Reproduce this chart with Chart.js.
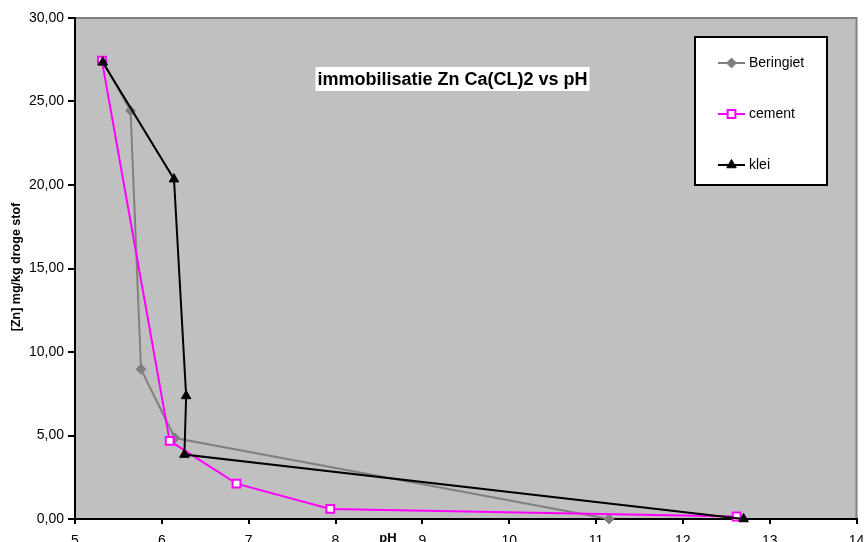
<!DOCTYPE html>
<html>
<head>
<meta charset="utf-8">
<script src="https://cdn.jsdelivr.net/npm/chart.js@4/dist/chart.umd.min.js"></script>
<style>
  html, body { margin: 0; padding: 0; background: #fff; }
  #wrap { width: 864px; height: 542px; position: relative; }
</style>
</head>
<body>
<div id="wrap"><canvas id="znChart"></canvas></div>
<script>
// ── Data ──────────────────────────────────────────────────────────────────
var berPH    = [5.32, 5.64, 5.76, 6.15, 11.15];
var berZn    = [27.40, 24.45, 8.97, 4.85, 0.00];
var cementPH = [5.31, 6.09, 6.86, 7.94, 12.62];
var cementZn = [27.45, 4.68, 2.12, 0.60, 0.15];
var kleiPH   = [5.32, 6.14, 6.28, 6.26, 12.70];
var kleiZn   = [27.35, 20.35, 7.37, 3.86, 0.00];

var seriesNames = ['Beringiet', 'cement', 'klei'];
var chartTitle  = 'immobilisatie Zn Ca(CL)2 vs pH';
var xTitle      = 'pH';
var yTitle      = '[Zn] mg/kg droge stof';

var FONT = '"Liberation Sans", Arial, sans-serif';

function pts(xs, ys) {
  return xs.map(function(x, i) { return { x: x, y: ys[i] }; });
}

// ── Decorations: grey plot area, inner title, boxed legend, axis titles ──
var decor = {
  id: 'decor',
  beforeDraw: function(chart) {
    var a = chart.chartArea, ctx = chart.ctx;
    ctx.save();
    ctx.fillStyle = '#c0c0c0';
    ctx.fillRect(a.left, a.top, a.right - a.left, a.bottom - a.top);
    ctx.strokeStyle = '#808080';
    ctx.lineWidth = 2;
    ctx.beginPath();
    ctx.moveTo(a.left, a.top);
    ctx.lineTo(a.right, a.top);
    ctx.lineTo(a.right, a.bottom);
    ctx.stroke();

    // title box inside the plot
    ctx.font = 'bold 18px ' + FONT;
    var tw = ctx.measureText(chartTitle).width;
    var cx = 452.5;
    ctx.fillStyle = '#fff';
    ctx.fillRect(cx - tw / 2 - 2, 67, tw + 4, 24);
    ctx.fillStyle = '#000';
    ctx.textAlign = 'center';
    ctx.textBaseline = 'middle';
    ctx.fillText(chartTitle, cx, 80);

    // axis titles
    ctx.font = 'bold 13px ' + FONT;
    ctx.textBaseline = 'top';
    ctx.fillText(xTitle, 388, 532);
    ctx.save();
    ctx.translate(16.5, 267);
    ctx.rotate(-Math.PI / 2);
    ctx.font = 'bold 12.5px ' + FONT;
    ctx.textBaseline = 'middle';
    ctx.fillText(yTitle, 0, 0);
    ctx.restore();
    ctx.restore();
  },
  afterDraw: function(chart) {
    var ctx = chart.ctx;
    ctx.save();
    ctx.fillStyle = '#fff';
    ctx.fillRect(695, 37, 132, 148);
    ctx.strokeStyle = '#000';
    ctx.lineWidth = 2;
    ctx.strokeRect(695, 37, 132, 148);

    var rows = [63, 114, 165];
    chart.data.datasets.forEach(function(ds, i) {
      var y = rows[i];
      ctx.strokeStyle = ds.borderColor;
      ctx.lineWidth = 2;
      ctx.beginPath();
      ctx.moveTo(718, y);
      ctx.lineTo(745, y);
      ctx.stroke();
      ctx.fillStyle = ds.pointBackgroundColor;
      ctx.strokeStyle = ds.borderColor;
      ctx.lineWidth = ds.pointBorderWidth;
      Chart.helpers.drawPoint(ctx, {
        pointStyle: ds.pointStyle,
        radius: ds.pointRadius,
        borderWidth: ds.pointBorderWidth
      }, 731.5, y);
      ctx.fillStyle = '#000';
      ctx.font = '14px ' + FONT;
      ctx.textAlign = 'left';
      ctx.textBaseline = 'middle';
      ctx.fillText(ds.label, 749, y);
    });
    ctx.restore();
  }
};

function lineSet(label, data, color, style, radius, fill, order) {
  return {
    label:                label,
    data:                 data,
    showLine:             true,
    clip:                 false,
    borderColor:          color,
    backgroundColor:      color,
    borderWidth:          2,
    pointStyle:           style,
    pointRadius:          radius,
    pointBorderWidth:     style === 'rect' ? 2 : 1,
    pointBackgroundColor: fill,
    pointBorderColor:     color,
    order:                order,
  };
}

new Chart(document.getElementById('znChart'), {
  type: 'scatter',
  data: {
    datasets: [
      lineSet(seriesNames[0], pts(berPH, berZn), '#808080', 'rectRot', 5, '#808080', 3),
      lineSet(seriesNames[1], pts(cementPH, cementZn), '#ff00ff', 'rect', 5.5, '#ffffff', 2),
      lineSet(seriesNames[2], pts(kleiPH, kleiZn), '#000000', 'triangle', 5.5, '#000000', 1),
    ]
  },
  options: {
    responsive: true,
    maintainAspectRatio: false,
    animation: false,
    layout: { padding: { left: 0, top: 18, right: 6, bottom: 0 } },
    plugins: {
      legend:  { display: false },
      tooltip: { enabled: false },
      title:   { display: false },
    },
    scales: {
      x: {
        type: 'linear',
        min: 5,
        max: 14,
        grid:   { drawOnChartArea: false, drawTicks: true, tickLength: 5, color: '#000', lineWidth: 2 },
        border: { color: '#000', width: 2 },
        ticks: {
          stepSize: 1,
          autoSkip: false,
          maxRotation: 0,
          padding: 9,
          color: '#000',
          font: { family: FONT, size: 14 },
        },
        afterFit: function(s) { s.height = 23; s.paddingLeft = 0; s.paddingRight = 0; },
      },
      y: {
        min: 0,
        max: 30,
        grid:   { drawOnChartArea: false, drawTicks: true, tickLength: 7, color: '#000', lineWidth: 2 },
        border: { color: '#000', width: 2 },
        ticks: {
          stepSize: 5,
          padding: 4,
          color: '#000',
          font: { family: FONT, size: 14 },
          callback: function(v) { return v.toFixed(2).replace('.', ','); }
        },
        afterFit: function(s) { s.width = 75; s.paddingTop = 0; s.paddingBottom = 0; },
      }
    }
  },
  plugins: [decor]
});
</script>
</body>
</html>
